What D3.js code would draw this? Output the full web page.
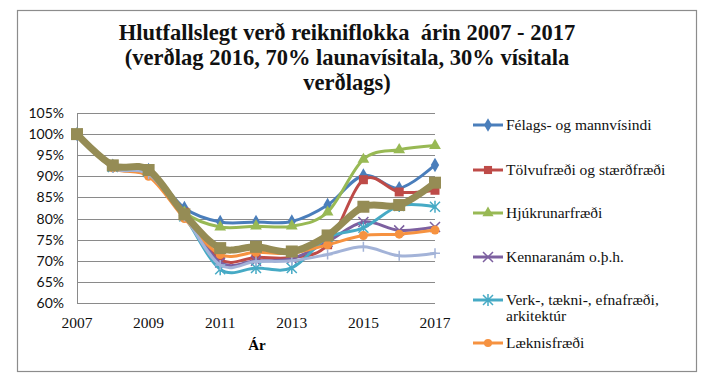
<!DOCTYPE html>
<html><head><meta charset="utf-8">
<script src="https://cdn.jsdelivr.net/npm/d3@7"></script>
<style>body{margin:0;background:#fff}svg{display:block}text{white-space:pre}</style>
</head><body>
<script>
const years = [2007,2008,2009,2010,2011,2012,2013,2014,2015,2016,2017];
const felags  = [100, 92.5, 91.5, 82.5, 79.2, 79.2, 79.3, 83.2, 90.2, 87.2, 92.7];
const tolvu   = [100, 92.3, 91.3, 81.5, 70.3, 70.8, 70.8, 73.8, 89.2, 86.3, 86.7];
const hjukrun = [100, 92.5, 91.3, 81.5, 78.0, 78.2, 78.2, 81.5, 94.0, 96.3, 97.3];
const kennara = [100, 92.3, 91.2, 81.0, 69.6, 70.0, 70.5, 74.5, 79.2, 77.2, 78.0];
const verk    = [100, 92.2, 91.0, 80.5, 68.0, 68.3, 68.3, 75.5, 77.8, 83.0, 82.8];
const laeknis = [100, 92.0, 90.0, 80.0, 71.5, 72.0, 71.8, 73.8, 76.0, 76.3, 77.3];
const series7 = [100, 92.0, 90.5, 80.5, 69.0, 69.8, 70.0, 71.5, 73.3, 71.2, 71.8];
const series8 = [100, 92.6, 91.5, 81.0, 73.0, 73.3, 72.2, 76.0, 82.8, 83.2, 88.5];
const seriesNames = ["Félags- og mannvísindi","Tölvufræði og stærðfræði","Hjúkrunarfræði","Kennaranám o.þ.h.","Verk-, tækni-, efnafræði, arkitektúr","Læknisfræði","",""];
const yTicks = [60,65,70,75,80,85,90,95,100,105];
const xTicks = [2007,2009,2011,2013,2015,2017];
const titleLines = ["Hlutfallslegt verð reikniflokka  árin 2007 - 2017","(verðlag 2016, 70% launavísitala, 30% vísitala","verðlags)"];

const series = [
  {name:seriesNames[0], values:felags,  color:"#4a7ebb", marker:"diamond", w:3, legend:true},
  {name:seriesNames[1], values:tolvu,   color:"#be4b48", marker:"square", w:3, legend:true},
  {name:seriesNames[2], values:hjukrun, color:"#98b954", marker:"triangle", w:3, legend:true},
  {name:seriesNames[3], values:kennara, color:"#7d60a0", marker:"x", w:3, legend:true},
  {name:seriesNames[4], values:verk,    color:"#46aac5", marker:"star", w:3, legend:true},
  {name:seriesNames[5], values:laeknis, color:"#f69240", marker:"circle", w:3, legend:true},
  {name:seriesNames[6], values:series7, color:"#a3b3d8", marker:"plus", w:3, legend:false},
  {name:seriesNames[7], values:series8, color:"#958c55", marker:"bigsquare", w:7, legend:false}
];

const W=713,H=391;
const svg=d3.select("body").append("svg").attr("width",W).attr("height",H);
svg.append("rect").attr("x",17.5).attr("y",10.5).attr("width",679).attr("height",361)
  .attr("fill","#fff").attr("stroke","#8c8c8c").attr("stroke-width",1.2);

const x=d3.scaleLinear().domain([2007,2017]).range([77,435]);
const y=d3.scaleLinear().domain([60,105]).range([303,113]);

// title
svg.append("g").selectAll("text").data(titleLines).join("text")
  .attr("x",347).attr("y",(d,i)=>40+i*25).attr("text-anchor","middle")
  .attr("font-family","'Liberation Serif', serif").attr("font-weight","bold").attr("font-size",22.5)
  .attr("fill","#111").text(d=>d);

// grid
svg.append("g").selectAll("line").data(yTicks).join("line")
  .attr("x1",77).attr("x2",435).attr("y1",d=>Math.round(y(d))+0.5).attr("y2",d=>Math.round(y(d))+0.5)
  .attr("stroke","#8a8a8a").attr("stroke-width",1);
svg.append("line").attr("x1",77.5).attr("x2",77.5).attr("y1",y(105)).attr("y2",y(60)+0.5).attr("stroke","#8a8a8a");

// y labels
svg.append("g").selectAll("text").data(yTicks).join("text")
  .attr("x",64).attr("y",d=>y(d)+5).attr("text-anchor","end")
  .attr("font-family","Lato, 'Open Sans', sans-serif").attr("font-size",14).attr("fill","#111")
  .text(d=>d+"%");
// x labels
svg.append("g").selectAll("text").data(xTicks).join("text")
  .attr("x",d=>x(d)).attr("y",328).attr("text-anchor","middle")
  .attr("font-family","'Liberation Serif', serif").attr("font-size",15.5).attr("fill","#111")
  .text(d=>d);
svg.append("text").attr("x",257).attr("y",350).attr("text-anchor","middle")
  .attr("font-family","'Liberation Serif', serif").attr("font-weight","bold").attr("font-size",15).text("Ár");

const line=d3.line().x((d,i)=>x(years[i])).y(d=>y(d)).curve(d3.curveCardinal.tension(0));

function drawMarker(g,type,cx,cy,color,scale){
  const s=scale||1;
  if(type==="diamond") g.append("path").attr("d",d3.symbol(d3.symbolDiamond,60*s)()).attr("transform",`translate(${cx},${cy})`).attr("fill",color);
  else if(type==="square") g.append("rect").attr("x",cx-4.5*s).attr("y",cy-4.5*s).attr("width",9*s).attr("height",9*s).attr("fill",color);
  else if(type==="bigsquare") g.append("rect").attr("x",cx-6).attr("y",cy-6).attr("width",12).attr("height",12).attr("fill",color);
  else if(type==="triangle") g.append("path").attr("d",d3.symbol(d3.symbolTriangle,60*s)()).attr("transform",`translate(${cx},${cy})`).attr("fill",color);
  else if(type==="circle") g.append("circle").attr("cx",cx).attr("cy",cy).attr("r",4.5*s).attr("fill",color);
  else if(type==="x"){
    g.append("path").attr("d",`M${cx-5},${cy-5}L${cx+5},${cy+5}M${cx-5},${cy+5}L${cx+5},${cy-5}`).attr("stroke",color).attr("stroke-width",1.5);
  } else if(type==="star"){
    g.append("path").attr("d",`M${cx-5},${cy-5}L${cx+5},${cy+5}M${cx-5},${cy+5}L${cx+5},${cy-5}M${cx},${cy-6}L${cx},${cy+6}`).attr("stroke",color).attr("stroke-width",1.5);
  } else if(type==="plus"){
    g.append("path").attr("d",`M${cx},${cy-5}L${cx},${cy+5}M${cx-5},${cy}L${cx+5},${cy}`).attr("stroke",color).attr("stroke-width",1.5);
  }
}

const plot=svg.append("g");
series.forEach(s=>{
  const g=plot.append("g");
  g.append("path").attr("d",line(s.values)).attr("fill","none").attr("stroke",s.color)
   .attr("stroke-width",s.w).attr("stroke-linejoin","round").attr("stroke-linecap","round");
  s.values.forEach((v,i)=>drawMarker(g,s.marker,x(years[i]),y(v),s.color));
});

// legend
const legY=[125,170,213,257,300,343];
const leg=svg.append("g");
series.filter(s=>s.legend).forEach((s,i)=>{
  const cy=legY[i];
  leg.append("line").attr("x1",473).attr("x2",503).attr("y1",cy).attr("y2",cy).attr("stroke",s.color).attr("stroke-width",3);
  drawMarker(leg,s.marker,488,cy,s.color,0.9);
  const parts = s.name==="Verk-, tækni-, efnafræði, arkitektúr" ? ["Verk-, tækni-, efnafræði,","arkitektúr"] : [s.name];
  parts.forEach((p,j)=>{
    leg.append("text").attr("x",506).attr("y",cy+5+j*16).attr("font-family","'Liberation Serif', serif")
      .attr("font-size",15.5).attr("fill","#111").text(p);
  });
});
</script>
</body></html>
